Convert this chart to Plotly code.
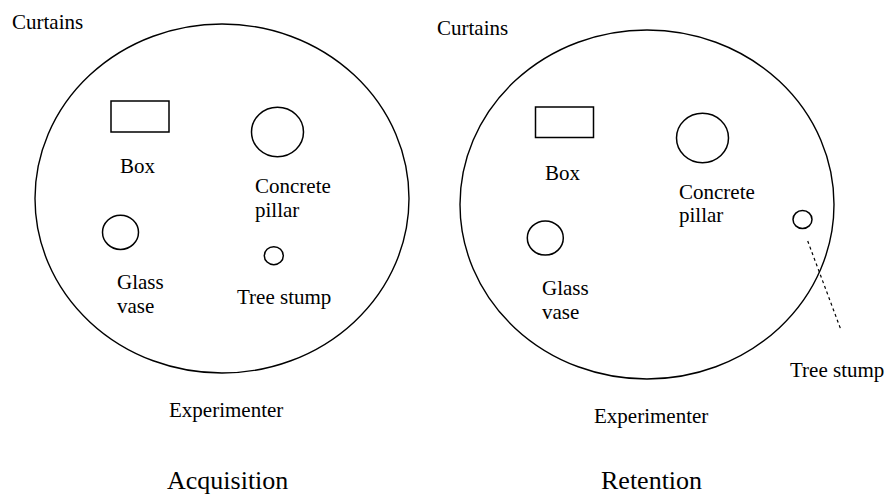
import plotly.graph_objects as go

W, H = 887, 494

# ---- diagram content (pixel-space layout) ----
phases = ["Acquisition", "Retention"]
phase_x = [227, 651]
phase_baseline = [489, 489]

arena_cx = [222, 647]
arena_cy = [198.5, 204.5]
arena_rx = [187, 187]
arena_ry = [174.5, 174.5]

box_x0 = [111, 535.5]
box_x1 = [169, 593.5]
box_y0 = [101, 107]
box_y1 = [132, 137.5]

pillar_cx = [277.5, 702.5]
pillar_cy = [132, 138]
pillar_r = [26, 26]

vase_cx = [120.5, 545.3]
vase_cy = [232.3, 238]
vase_r = [18, 18]

stump_cx = [273.8, 802.5]
stump_cy = [255.7, 219.5]
stump_r = [9.5, 9.5]

pointer_x = [807.7, 841]
pointer_y = [241, 330]

# labels: (text, x, baseline, xanchor)
labels = [
    ("Curtains", 10, 29.5, "left"),
    ("Box", 137.5, 173.5, "center"),
    ("Concrete", 252.5, 193.5, "left"),
    ("pillar", 252.5, 217.5, "left"),
    ("Glass", 115, 289.5, "left"),
    ("vase", 115, 313.5, "left"),
    ("Tree stump", 234.5, 304.5, "left"),
    ("Experimenter", 226, 417.5, "center"),
    ("Curtains", 434.5, 35, "left"),
    ("Box", 562.5, 180, "center"),
    ("Concrete", 677, 199, "left"),
    ("pillar", 677, 222.5, "left"),
    ("Glass", 539.5, 295, "left"),
    ("vase", 539.5, 319.5, "left"),
    ("Tree stump", 787.5, 377.5, "left"),
    ("Experimenter", 651, 423, "center"),
]

FONT = "Liberation Serif, Times New Roman, serif"
LBL = 21
TTL = 26

fig = go.Figure()
shapes = []
for i in range(2):
    shapes.append(dict(type="circle", xref="x", yref="y",
                       x0=arena_cx[i] - arena_rx[i], x1=arena_cx[i] + arena_rx[i],
                       y0=arena_cy[i] - arena_ry[i], y1=arena_cy[i] + arena_ry[i],
                       line=dict(color="black", width=1.4)))
    shapes.append(dict(type="rect", xref="x", yref="y",
                       x0=box_x0[i], x1=box_x1[i], y0=box_y0[i], y1=box_y1[i],
                       line=dict(color="black", width=1.5)))
    for cx, cy, r in [(pillar_cx[i], pillar_cy[i], pillar_r[i]),
                      (vase_cx[i], vase_cy[i], vase_r[i]),
                      (stump_cx[i], stump_cy[i], stump_r[i])]:
        shapes.append(dict(type="circle", xref="x", yref="y",
                           x0=cx - r, x1=cx + r, y0=cy - r * 0.95, y1=cy + r * 0.95,
                           line=dict(color="black", width=1.5)))
shapes.append(dict(type="line", xref="x", yref="y",
                   x0=pointer_x[0], x1=pointer_x[1], y0=pointer_y[0], y1=pointer_y[1],
                   line=dict(color="black", width=1.2, dash="dot")))

annotations = []
for text, x, base, anchor in labels:
    annotations.append(dict(text=text, x=x, y=base - 0.34 * LBL, xref="x", yref="y",
                            xanchor=anchor, yanchor="middle", showarrow=False,
                            font=dict(family=FONT, size=LBL, color="black")))
for i in range(2):
    annotations.append(dict(text=phases[i], x=phase_x[i], y=phase_baseline[i] - 0.34 * TTL,
                            xref="x", yref="y", xanchor="center", yanchor="middle",
                            showarrow=False,
                            font=dict(family=FONT, size=TTL, color="black")))

fig.update_layout(
    width=W, height=H,
    margin=dict(l=0, r=0, t=0, b=0),
    paper_bgcolor="white", plot_bgcolor="white",
    xaxis=dict(range=[0, W], visible=False, fixedrange=True),
    yaxis=dict(range=[H, 0], visible=False, fixedrange=True),
    shapes=shapes, annotations=annotations, showlegend=False,
)
fig.write_html(
    "out.html",
    config={"displayModeBar": False},
    post_script="document.body.style.margin='0';document.body.style.overflow='hidden';",
)
